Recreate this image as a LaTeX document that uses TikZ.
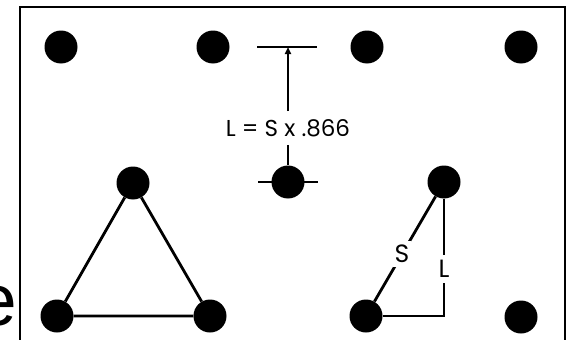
\documentclass[tikz,border=0pt]{standalone}
\usepackage{fontspec}
\setmainfont{Poppins}
\newfontfamily\cutfont{Liberation Sans}
\usetikzlibrary{arrows.meta}
\definecolor{PegBlack}{HTML}{000000}
\tikzset{
  peg/.style={circle,fill=PegBlack,minimum size=33pt,inner sep=0pt},
  linkline/.style={line width=2.8pt,draw=PegBlack},
  dimline/.style={line width=2pt,draw=PegBlack},
  dimarrow/.style={-{Triangle[length=7pt,width=6pt]},line width=2pt,draw=PegBlack},
  labeltext/.style={font=\fontsize{23}{26}\selectfont,inner xsep=3pt,inner ysep=8pt},
  sidetext/.style={font=\fontsize{25}{28}\selectfont,fill=white,inner xsep=2pt},
  framebox/.style={line width=2pt,draw=PegBlack}
}

\begin{document}
\begin{tikzpicture}[x=1pt,y=-1pt]
\clip (0,0) rectangle (571,340);
\node[font=\cutfont\fontsize{73}{80}\selectfont,anchor=base east,inner sep=0pt] (cut) at (17,325) {e};
\draw[framebox] (20,7) rectangle (565,350);
\node[peg] (p1) at (61,47) {};
\node[peg] (p2) at (213,47) {};
\node[peg] (p3) at (367,47) {};
\node[peg] (p4) at (521,47) {};
\node[peg] (ta) at (133,183) {};
\node[peg] (tb) at (57,316) {};
\node[peg] (tc) at (210,316) {};
\draw[linkline] (ta) -- (tb) -- (tc) -- (ta);
\coordinate (barL) at (257,47);
\coordinate (barR) at (317,47);
\coordinate (barM) at (288,47);
\draw[dimline] (barL) -- (barR);
\node[labeltext] (lbl) at (288,128) {L = S x .866};
\node[peg] (pm) at (288,182) {};
\coordinate (tickL) at (258,182);
\coordinate (tickR) at (318,182);
\draw[dimline] (tickL) -- (tickR);
\draw[dimarrow] (lbl) -- (barM);
\draw[dimline] (lbl) -- (pm);
\node[peg] (r1) at (444,182) {};
\node[peg] (r2) at (366,316) {};
\node[peg] (r3) at (521,317) {};
\coordinate (rc) at (444,316);
\draw[linkline] (r1) -- node[pos=0.55,sidetext,inner ysep=4pt]{S} (r2);
\draw[linkline] (r1) -- node[pos=0.6,sidetext,inner ysep=5pt]{L} (rc) -- (r2);
\end{tikzpicture}
\end{document}
